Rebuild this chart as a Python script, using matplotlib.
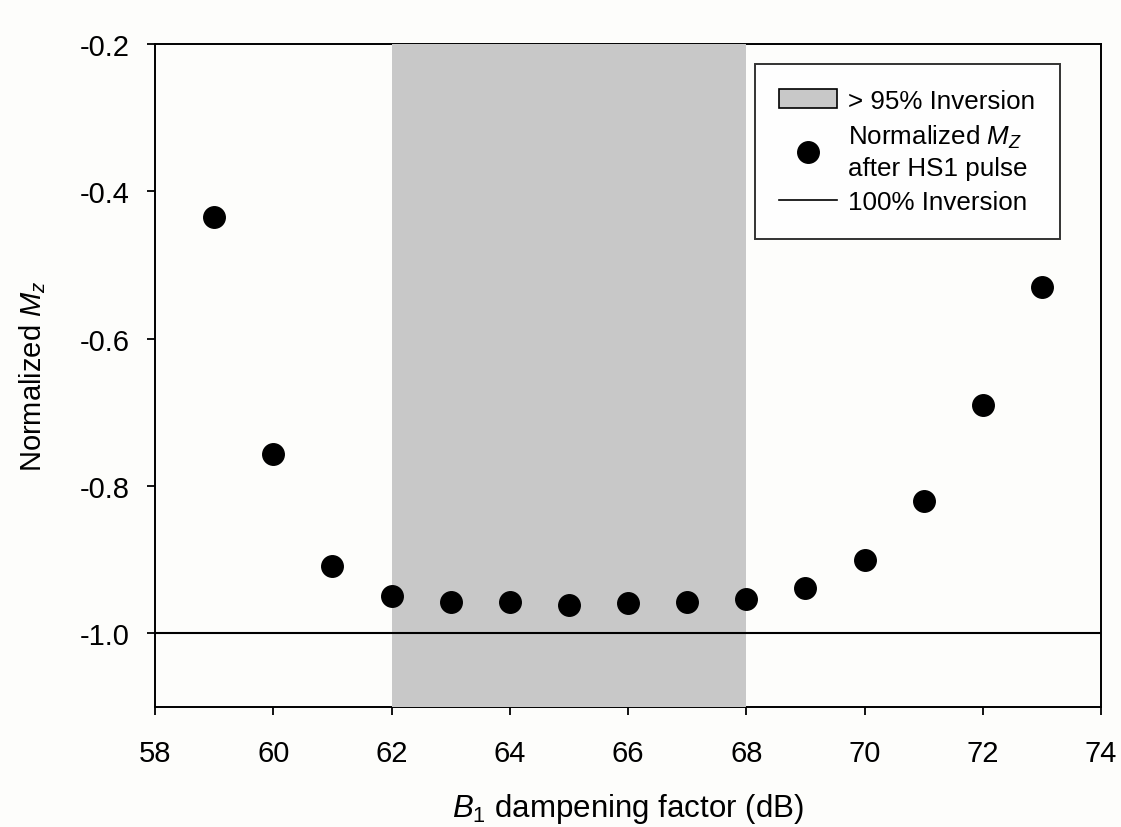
import matplotlib
matplotlib.use("Agg")
import matplotlib.pyplot as plt
from matplotlib.patches import Patch
from matplotlib.lines import Line2D

plt.rcParams["font.family"] = ["Liberation Sans", "DejaVu Sans"]
plt.rcParams["mathtext.fontset"] = "custom"
plt.rcParams["mathtext.rm"] = "Liberation Sans"
plt.rcParams["mathtext.it"] = "Liberation Sans:italic"

# B1 dampening factor (dB) vs normalized Mz after the HS1 pulse
damping_db = [59, 60, 61, 62, 63, 64, 65, 66, 67, 68, 69, 70, 71, 72, 73]
mz_norm = [-0.435, -0.757, -0.909, -0.949, -0.958, -0.958, -0.961, -0.959,
           -0.958, -0.953, -0.938, -0.900, -0.821, -0.690, -0.530]

inversion_band = (62, 68)   # region with > 95% inversion
full_inversion = -1.0

xticks = [58, 60, 62, 64, 66, 68, 70, 72, 74]
yticks = [-1.0, -0.8, -0.6, -0.4, -0.2]

fig = plt.figure(figsize=(11.21, 8.28), dpi=100, facecolor="#fdfdfb")
ax = fig.add_axes([0.1383, 0.1449, 0.8439, 0.8008])
ax.set_facecolor("#fdfdfb")

ax.axvspan(*inversion_band, color="#c8c8c8", lw=0, zorder=3)
ax.axhline(full_inversion, color="black", lw=1.5, zorder=4)
ax.plot(damping_db, mz_norm, "o", color="black", ms=15.5, zorder=5)

ax.set_xlim(58, 74)
ax.set_ylim(-1.1, -0.2)
ax.set_xticks(xticks)
ax.set_yticks(yticks)
ax.set_yticklabels([f"{v:.1f}" for v in yticks])
ax.tick_params(direction="out", length=6, width=1.3, labelsize=21)
ax.tick_params(axis="x", pad=17)
ax.tick_params(axis="y", pad=12)
for sp in ax.spines.values():
    sp.set_linewidth(1.4)
    sp.set_zorder(2)

ax.set_xlabel("$B_1$ dampening factor (dB)", fontsize=22.5, labelpad=17)
ax.set_ylabel("Normalized $M_z$", fontsize=21, labelpad=23)

handles = [
    Patch(facecolor="#c8c8c8", edgecolor="black", lw=1.2),
    Line2D([], [], ls="none", marker="o", color="black", ms=15.5),
    Line2D([], [], color="black", lw=1.2),
]
labels = ["> 95% Inversion", "Normalized $M_Z$\nafter HS1 pulse", "100% Inversion"]
leg = ax.legend(handles, labels, loc="upper right", bbox_to_anchor=(0.9567, 0.9698),
                borderaxespad=0, fontsize=18.7, frameon=True, fancybox=False,
                edgecolor="black", handlelength=2.2, handletextpad=0.45,
                labelspacing=0.4, borderpad=0.95)
for t in leg.get_texts():
    t.set_linespacing(1.3)
leg.get_frame().set_linewidth(1.4)
leg.set_zorder(10)

fig.savefig("out.png", dpi=100, facecolor=fig.get_facecolor())
